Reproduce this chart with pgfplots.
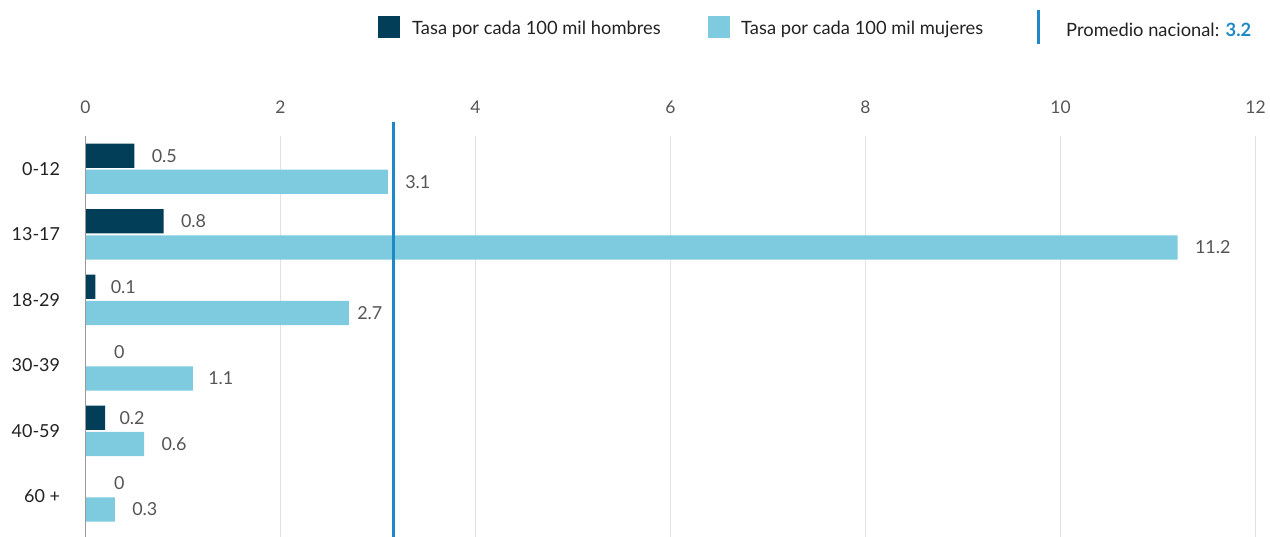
\documentclass[border=0pt]{standalone}
\usepackage{pgfplots}
\usepackage{pgfplotstable}
\pgfplotsset{compat=1.18}
\usepackage{fontspec}
\setmainfont{Lato}
\definecolor{darkbar}{HTML}{023E58}
\definecolor{lightbar}{HTML}{7ECBDF}
\definecolor{meanline}{HTML}{1F88C8}
\definecolor{gridc}{HTML}{E2E2E2}
\definecolor{ticktxt}{HTML}{555555}
\definecolor{cattxt}{HTML}{222222}
% x = rate, y = row position, s = label nudge (bp)
\pgfplotstableread{
x    y     s
0.5  -0.2  0
0.8  0.8   0
0.1  1.8   -2
0    2.8   11
0.2  3.8   -3
0    4.8   11
}\hombres
\pgfplotstableread{
x    y    s
3.1  0.2  0
11.2 1.2  0
2.7  2.2  -9
1.1  3.2  -2
0.6  4.2  0
0.3  5.2  0
}\mujeres
\begin{document}
\begin{tikzpicture}[x=1bp,y=1bp]
\useasboundingbox (0,0) rectangle (1270,537);
\begin{axis}[
  at={(85.5bp,0bp)}, anchor=south west,
  scale only axis, width=1170bp, height=401bp,
  xmin=0, xmax=12, ymin=-0.5, ymax=5.62,
  y dir=reverse,
  axis line style={draw=none},
  xtick={0,2,...,12},
  xticklabel pos=top,
  xmajorgrids, grid style={gridc, line width=1.3bp},
  major tick length=0pt,
  ytick={0,...,5},
  yticklabels={0-12,13-17,18-29,30-39,40-59,60 +},
  xticklabel style={font=\fontsize{17.5}{20}\selectfont, text=ticktxt, yshift=19bp},
  yticklabel style={font=\fontsize{18}{20}\selectfont, text=cattxt, xshift=-22bp},
  /pgf/number format/assume math mode=true,
  bar width=0.37,
  clip=false,
  barlabels/.style={
    nodes near coords,
    visualization depends on={\thisrow{s}\as\lshift},
    every node near coord/.style={font=\fontsize{18}{20}\selectfont, text=ticktxt, anchor=west, xshift=14bp, xshift=\lshift*1bp, /pgf/number format/fixed, /pgf/number format/precision=1},
  },
]
\addplot[xbar, bar shift=0pt, fill=darkbar, draw=none, barlabels] table[x=x, y=y] {\hombres};
\addplot[xbar, bar shift=0pt, fill=lightbar, draw=none, barlabels] table[x=x, y=y] {\mujeres};
\addplot[draw=gray!80, line width=1.5bp, forget plot] coordinates {(0,-0.5) (0,5.62)};
\addplot[draw=meanline, line width=3bp, forget plot] coordinates {(3.16,-0.72) (3.16,5.62)};
\end{axis}
\fill[darkbar] (378,499) rectangle (400,521);
\node[anchor=west, inner sep=0pt, text=cattxt, font=\fontsize{18.4}{20}\selectfont] at (412,508) {Tasa por cada 100 mil hombres};
\fill[lightbar] (708,499) rectangle (730,521);
\node[anchor=west, inner sep=0pt, text=cattxt, font=\fontsize{18.4}{20}\selectfont] at (741,508) {Tasa por cada 100 mil mujeres};
\fill[meanline] (1036.5,493) rectangle (1039.5,527);
\node[anchor=west, inner sep=0pt, text=cattxt, font=\fontsize{18.4}{20}\selectfont] at (1066,507) {Promedio nacional: \textcolor{meanline}{\bfseries 3.2}};
\end{tikzpicture}
\end{document}
